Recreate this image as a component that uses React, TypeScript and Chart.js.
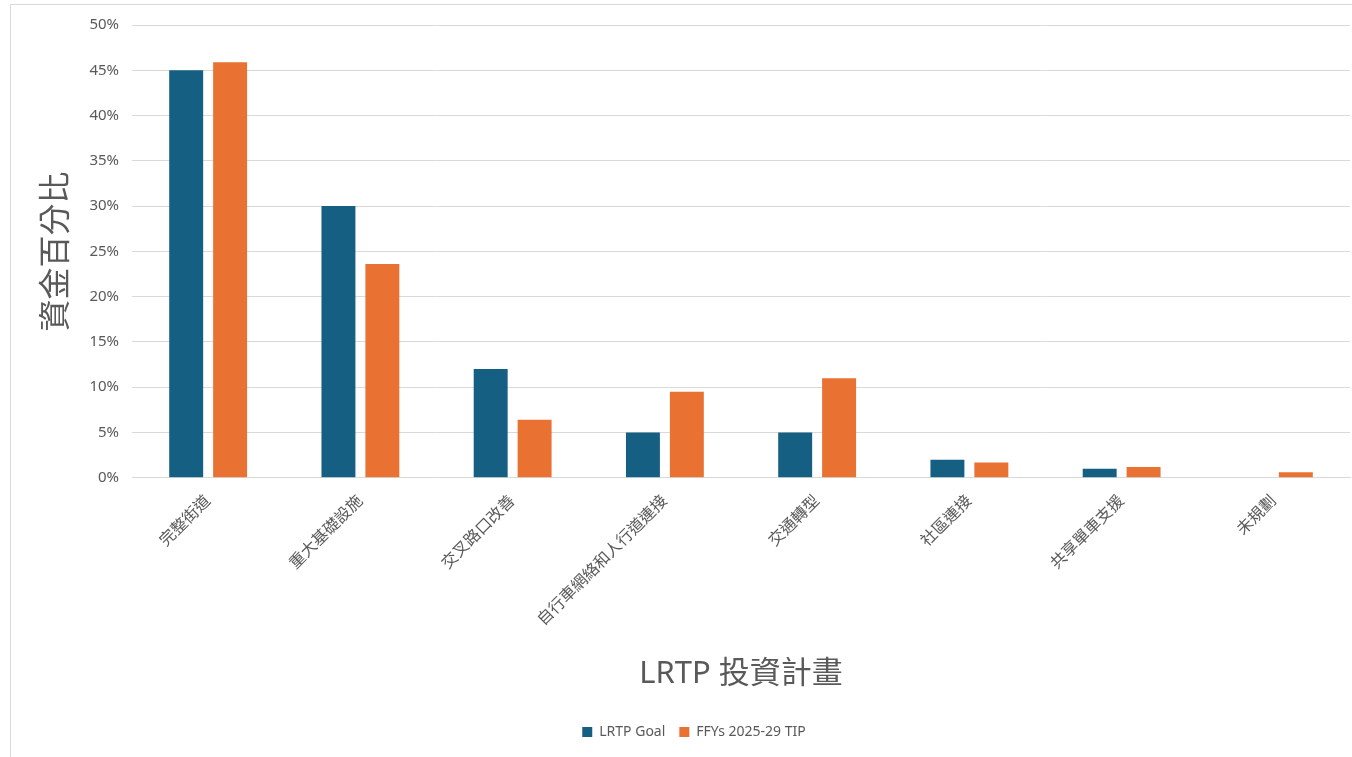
import React, { useEffect, useRef } from "react";
import { Chart, registerables } from "chart.js";

Chart.register(...registerables);

const categories = [
  "完整街道",
  "重大基礎設施",
  "交叉路口改善",
  "自行車網絡和人行道連接",
  "交通轉型",
  "社區連接",
  "共享單車支援",
  "未規劃",
];
const lrtpGoal = [45, 30, 12, 5, 5, 2, 1, null];
const tipValues = [45.9, 23.6, 6.4, 9.5, 11.0, 1.7, 1.2, 0.6];
const seriesNames = ["LRTP Goal", "FFYs 2025-29 TIP"];
const yTitle = "資金百分比";
const xTitle = "LRTP 投資計畫";

const FONT = '"Noto Sans", "Noto Sans CJK TC", sans-serif';
const GREY = "#595959";

export default function App() {
  const ref = useRef<HTMLCanvasElement | null>(null);
  useEffect(() => {
    if (!ref.current) return;
    const chart = new Chart(ref.current, {
      type: "bar",
      data: {
        labels: categories,
        datasets: [
          {
            label: seriesNames[0],
            data: lrtpGoal,
            backgroundColor: "#156082",
            categoryPercentage: 0.577,
            barPercentage: 0.773,
          },
          {
            label: seriesNames[1],
            data: tipValues,
            backgroundColor: "#E97132",
            categoryPercentage: 0.577,
            barPercentage: 0.773,
          },
        ],
      },
      options: {
        animation: false,
        responsive: false,
        maintainAspectRatio: false,
        layout: { padding: { left: 38, right: 2, top: 25, bottom: 8 } },
        plugins: {
          tooltip: { enabled: false },
          legend: {
            position: "bottom",
            labels: {
              boxWidth: 10,
              boxHeight: 10,
              padding: 14,
              color: GREY,
              font: { family: FONT, size: 14 },
            },
          },
        },
        scales: {
          x: {
            grid: { display: false },
            border: { color: "#d9d9d9" },
            ticks: {
              minRotation: 45,
              maxRotation: 45,
              color: GREY,
              font: { family: FONT, size: 16 },
              padding: 6,
            },
            title: {
              display: true,
              text: xTitle,
              color: GREY,
              font: { family: FONT, size: 31 },
              padding: { top: 20, bottom: 18 },
            },
          },
          y: {
            min: 0,
            max: 50,
            ticks: {
              stepSize: 5,
              color: GREY,
              font: { family: FONT, size: 15 },
              padding: 13,
              callback: (v: any) => v + "%",
            },
            grid: { color: "#d9d9d9", drawTicks: false },
            border: { display: false },
            title: {
              display: true,
              text: yTitle,
              color: GREY,
              font: { family: FONT, size: 32 },
              padding: 0,
            },
          },
        },
      },
    });
    return () => chart.destroy();
  }, []);

  return (
    <div
      style={{
        position: "fixed",
        left: 0,
        top: 0,
        width: 1352,
        height: 757,
        overflow: "hidden",
        background: "#fff",
      }}
    >
      <div
        style={{
          position: "absolute",
          left: 10,
          top: 4,
          width: 1400,
          height: 800,
          border: "1px solid #d9d9d9",
        }}
      />
      <canvas
        ref={ref}
        width={1352}
        height={757}
        style={{ position: "absolute", left: 0, top: 0 }}
      />
    </div>
  );
}
